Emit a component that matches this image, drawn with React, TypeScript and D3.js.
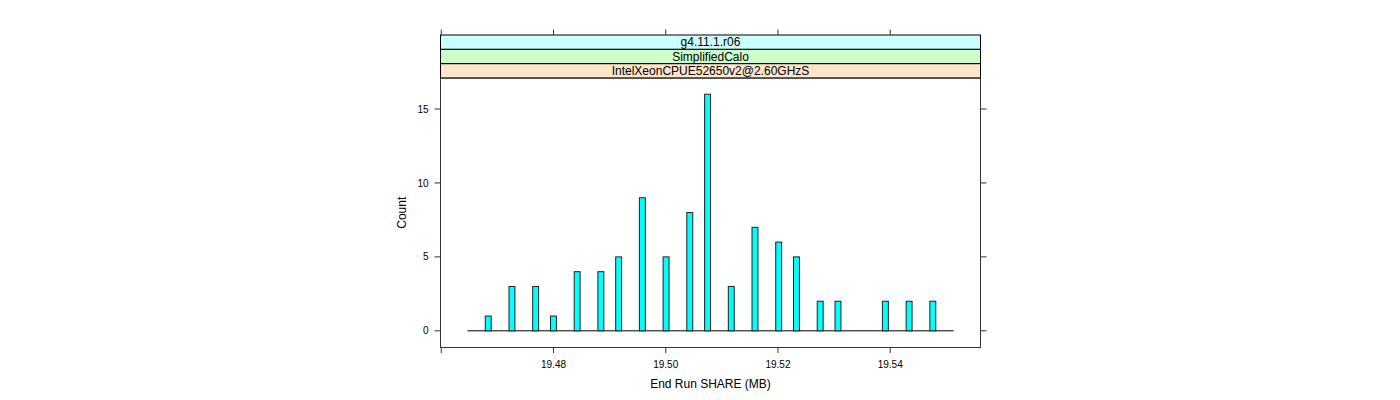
import React from "react";
import * as d3 from "d3";

// ---- Data ----
const breaksStart = 19.46467; // first histogram break (MB)
const breaksEnd = 19.55129; // last histogram break (MB)
const nBins = 82;
// indices of non-empty bins and their counts
const binIndex = [3, 7, 11, 14, 18, 22, 25, 29, 33, 37, 40, 44, 48, 52, 55, 59, 62, 70, 74, 78];
const counts = [1, 3, 3, 1, 4, 4, 5, 9, 5, 8, 16, 3, 7, 6, 5, 2, 2, 2, 2, 2];
const xTicks = [19.46, 19.48, 19.5, 19.52, 19.54];
const xTickLabels = ["", "19.48", "19.50", "19.52", "19.54"];
const yTicks = [0, 5, 10, 15];
const stripLabels = ["g4.11.1.r06", "SimplifiedCalo", "IntelXeonCPUE52650v2@2.60GHzS"];
const stripColors = ["#ccffff", "#ccffcc", "#ffe5cc"];
const xLabel = "End Run SHARE (MB)";
const yLabel = "Count";
const xLim = [19.45986, 19.55609];
const yLim = [-1.128, 17.095];

export default function App() {
  const W = 1400;
  const H = 400;
  const left = 440.5;
  const right = 980.5;
  const stripTop = 35;
  const stripH = 14.35;
  const panelTop = stripTop + stripH * 3;
  const panelBottom = 347.5;

  const x = d3.scaleLinear().domain(xLim).range([left, right]);
  const y = d3.scaleLinear().domain(yLim).range([panelBottom, panelTop]);
  const binW = (breaksEnd - breaksStart) / nBins;
  const font = "'Liberation Sans', Arial, Helvetica, sans-serif";

  return (
    <div style={{ position: "absolute", left: 0, top: 0 }}>
      <svg width={W} height={H} style={{ display: "block", background: "#fff" }}>
        {/* strips (top to bottom) */}
        {stripLabels.map((s, i) => (
          <g key={s}>
            <rect
              x={left}
              y={stripTop + i * stripH}
              width={right - left}
              height={stripH}
              fill={stripColors[i]}
              stroke="#000"
              strokeWidth={1}
            />
            <text
              x={(left + right) / 2}
              y={stripTop + i * stripH + stripH / 2 + 4.2}
              textAnchor="middle"
              fontFamily={font}
              fontSize={12}
              fill="#000"
            >
              {s}
            </text>
          </g>
        ))}
        {/* panel border */}
        <rect
          x={left}
          y={panelTop}
          width={right - left}
          height={panelBottom - panelTop}
          fill="none"
          stroke="#333"
          strokeWidth={1}
        />
        {/* baseline (zero-height bins) */}
        <line x1={x(breaksStart)} x2={x(breaksEnd)} y1={y(0)} y2={y(0)} stroke="#000" strokeWidth={1} />
        {/* bars */}
        {binIndex.map((b, i) => {
          const x0 = breaksStart + b * binW;
          return (
            <rect
              key={b}
              x={x(x0)}
              y={y(counts[i])}
              width={x(x0 + binW) - x(x0)}
              height={y(0) - y(counts[i])}
              fill="#00ffff"
              stroke="#222"
              strokeWidth={1}
            />
          );
        })}
        {/* bottom x axis */}
        {xTicks.map((t, i) => (
          <g key={"xb" + t}>
            <line x1={x(t)} x2={x(t)} y1={panelBottom} y2={panelBottom + 5.5} stroke="#333" />
            <text x={x(t)} y={panelBottom + 20.5} textAnchor="middle" fontFamily={font} fontSize={10} fill="#000">
              {xTickLabels[i]}
            </text>
          </g>
        ))}
        {/* top x ticks */}
        {xTicks.map((t) => (
          <line key={"xt" + t} x1={x(t)} x2={x(t)} y1={stripTop} y2={stripTop - 5.5} stroke="#333" />
        ))}
        {/* y axis left */}
        {yTicks.map((t) => (
          <g key={"yl" + t}>
            <line x1={left} x2={left - 6} y1={y(t)} y2={y(t)} stroke="#333" />
            <text x={left - 12} y={y(t) + 3.6} textAnchor="end" fontFamily={font} fontSize={10} fill="#000">
              {t}
            </text>
          </g>
        ))}
        {/* y axis right ticks */}
        {yTicks.map((t) => (
          <line key={"yr" + t} x1={right} x2={right + 6} y1={y(t)} y2={y(t)} stroke="#333" />
        ))}
        {/* axis labels */}
        <text x={(left + right) / 2} y={388} textAnchor="middle" fontFamily={font} fontSize={12} fill="#000">
          {xLabel}
        </text>
        <text
          transform={`translate(${406},${(panelTop + panelBottom) / 2}) rotate(-90)`}
          textAnchor="middle"
          fontFamily={font}
          fontSize={12}
          fill="#000"
        >
          {yLabel}
        </text>
      </svg>
    </div>
  );
}
